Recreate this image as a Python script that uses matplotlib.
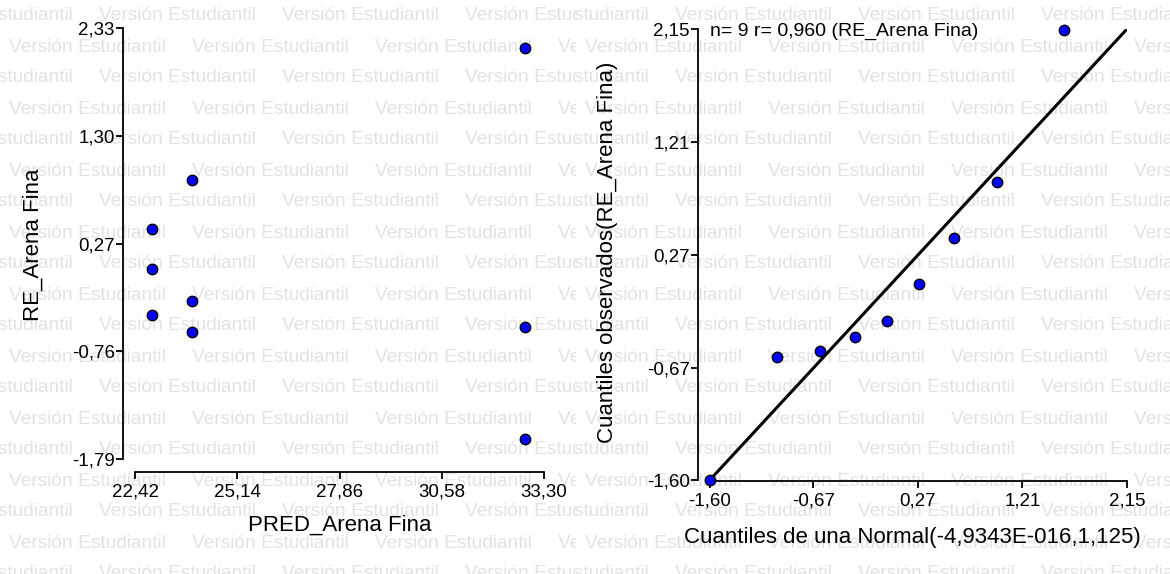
import matplotlib.pyplot as plt

plt.rcParams['font.family'] = ['Liberation Sans', 'DejaVu Sans']

# residuos vs predichos (Arena Fina)
pred = [32.80, 23.93, 22.86, 22.86, 23.93, 22.86, 23.93, 32.80, 32.80]
resid = [2.14, 0.88, 0.41, 0.03, -0.28, -0.41, -0.58, -0.53, -1.60]
pred_ticks = [22.42, 25.14, 27.86, 30.58, 33.30]
pred_ticklabels = ['22,42', '25,14', '27,86', '30,58', '33,30']
resid_ticks = [-1.79, -0.76, 0.27, 1.30, 2.33]
resid_ticklabels = ['-1,79', '-0,76', '0,27', '1,30', '2,33']

# QQ-plot
norm_q = [-1.60, -1.00, -0.61, -0.30, -0.01, 0.28, 0.59, 0.98, 1.58]
obs_q = [-1.60, -0.58, -0.53, -0.41, -0.28, 0.03, 0.41, 0.88, 2.14]
qq_ticks = [-1.60, -0.67, 0.27, 1.21, 2.15]
qq_ticklabels = ['-1,60', '-0,67', '0,27', '1,21', '2,15']

W, H = 1170, 574
fig = plt.figure(figsize=(W / 100, H / 100), dpi=100)

## watermark, one block per panel
def watermark(x0, x1):
    bg = fig.add_axes([x0 / W, 0, (x1 - x0) / W, 1], zorder=-5)
    bg.set_xlim(x0, x1)
    bg.set_ylim(H, 0)
    bg.axis('off')
    for k in range(19):
        start = x0 + (9 if k % 2 else -84)
        for j in range(5):
            bg.text(start + 183 * j, 16 + 31 * k, 'Versión Estudiantil',
                    fontsize=13.8, color='#e2e2e2', ha='left', va='center',
                    clip_on=True)

watermark(0, 576)
watermark(576, W)

def style(ax, xt, xtl, yt, ytl):
    ax.patch.set_visible(False)
    for s in ['top', 'right']:
        ax.spines[s].set_visible(False)
    for s in ['left', 'bottom']:
        ax.spines[s].set_linewidth(1.3)
    ax.spines['bottom'].set_bounds(xt[0], xt[-1])
    ax.spines['left'].set_bounds(yt[0], yt[-1])
    ax.set_xticks(xt)
    ax.set_xticklabels(xtl)
    ax.set_yticks(yt)
    ax.set_yticklabels(ytl)
    ax.tick_params(axis='both', length=5, width=1.3, labelsize=13.5)
    ax.tick_params(axis='y', pad=1)
    ax.tick_params(axis='x', pad=3.5)

## left panel
ax1 = fig.add_axes([123 / W, (H - 472) / H, 421 / W, 444 / H])
ax1.plot(pred, resid, 'o', color='#0000ff', mec='black', mew=1,
         ms=7.5, clip_on=False, zorder=3)
ax1.set_xlim(22.10, 33.30)
ax1.set_ylim(-1.914, 2.33)
style(ax1, pred_ticks, pred_ticklabels, resid_ticks, resid_ticklabels)
ax1.set_xlabel('PRED_Arena Fina', fontsize=16, va='center')
ax1.set_ylabel('RE_Arena Fina', fontsize=16, va='center')
ax1.xaxis.set_label_coords(0.515, -0.119)
ax1.yaxis.set_label_coords(-0.214, 0.511)

## right panel
ax2 = fig.add_axes([698 / W, (H - 481) / H, 429 / W, 452 / H])
ax2.plot([qq_ticks[0], qq_ticks[-1]], [qq_ticks[0], qq_ticks[-1]],
         color='black', lw=2.2, zorder=2)
ax2.plot(norm_q, obs_q, 'o', color='#0000ff', mec='black', mew=1,
         ms=7.5, clip_on=False, zorder=3)
ax2.set_xlim(-1.708, 2.15)
ax2.set_ylim(-1.61, 2.15)
style(ax2, qq_ticks, qq_ticklabels, qq_ticks, qq_ticklabels)
ax2.set_xlabel('Cuantiles de una Normal(-4,9343E-016,1,125)', fontsize=16, va='center')
ax2.set_ylabel('Cuantiles observados(RE_Arena Fina)', fontsize=16, va='center')
ax2.xaxis.set_label_coords(0.499, -0.124)
ax2.yaxis.set_label_coords(-0.21, 0.507)
ax2.text(-1.60, 2.13, 'n= 9 r= 0,960 (RE_Arena Fina)', fontsize=14,
         ha='left', va='center')

fig.savefig('out.png', dpi=100)
